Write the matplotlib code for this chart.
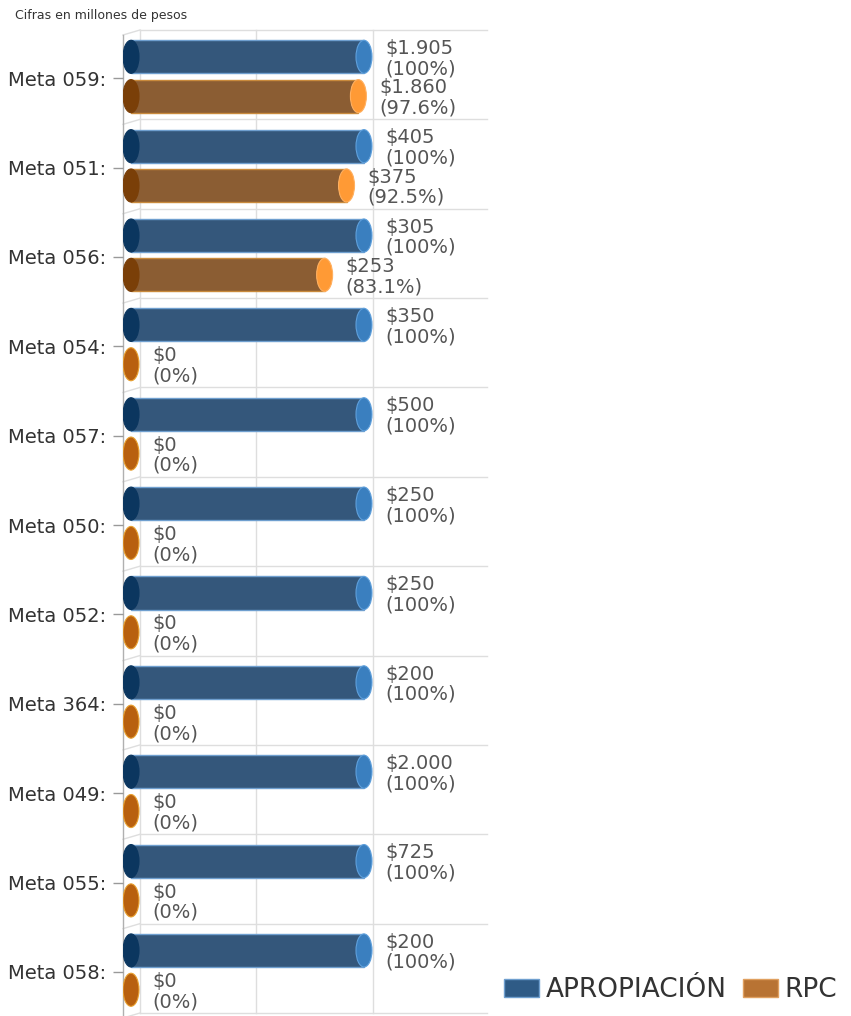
import matplotlib
matplotlib.use('Agg')
import matplotlib.pyplot as plt
from matplotlib.patches import Rectangle, Ellipse, Patch

# -----------------------------------------------------------------------------
# data (millones de pesos)

categories = ['Meta 059:', 'Meta 051:', 'Meta 056:', 'Meta 054:', 'Meta 057:',
              'Meta 050:', 'Meta 052:', 'Meta 364:', 'Meta 049:', 'Meta 055:',
              'Meta 058:']
apropiacion = [1905, 405, 305, 350, 500, 250, 250, 200, 2000, 725, 200]
apropiacion_pct = [100, 100, 100, 100, 100, 100, 100, 100, 100, 100, 100]
rpc = [1860, 375, 253, 0, 0, 0, 0, 0, 0, 0, 0]
rpc_pct = [97.6, 92.5, 83.1, 0, 0, 0, 0, 0, 0, 0, 0]

# -----------------------------------------------------------------------------

W, H, DPI = 851, 1016, 100
fig = plt.figure(figsize=(W / DPI, H / DPI), dpi=DPI)

ax_left, ax_right, ax_top, ax_bottom = 123, 487, 30, 1013
ax = fig.add_axes([ax_left / W, 1 - ax_bottom / H,
                   (ax_right - ax_left) / W, (ax_bottom - ax_top) / H])

px_per_pct = 2.33
x0 = -(131 - ax_left) / px_per_pct
x1 = (ax_right - 131) / px_per_pct
ax.set_xlim(x0, x1)
n = len(categories)
ax.set_ylim(n, 0)

for s in ax.spines.values():
    s.set_visible(False)
ax.set_xticks([])

# 3D-ish back wall / floor
depth_x = 17 / px_per_pct
depth_y = 5 / 89.4
grid_c = '#dedede'
for k in range(n + 1):
    ax.plot([x0 + depth_x, x1], [k, k], color=grid_c, lw=1, clip_on=False,
            zorder=0)
    ax.plot([x0, x0 + depth_x], [k + depth_y, k], color=grid_c, lw=1,
            clip_on=False, zorder=0)
for g in [0, 50, 100]:
    ax.plot([g + 3.7, g + 3.7], [0, n], color=grid_c, lw=1, zorder=0,
            clip_on=False)
ax.plot([x0, x0], [0.06, n + 0.04], color='#b0b0b0', lw=1, clip_on=False,
        zorder=1)

bar_h = 0.37
ell_w = 16 / px_per_pct

styles = {
    'blue': dict(body='#34577b', edge='#6f9fcf', left='#0b365f',
                 right='#3a7fbf', rightedge='#5fa0dc'),
    'orange': dict(body='#8b5d33', edge='#c98a3c', left='#7a3f08',
                   right='#ff9a35', rightedge='#ffb060'),
}


def cylinder(v, yc, st):
    if v > 0:
        ax.add_patch(Rectangle((0, yc - bar_h / 2), v, bar_h,
                               facecolor=st['body'], edgecolor=st['edge'],
                               lw=1, zorder=3))
        ax.add_patch(Ellipse((0, yc), ell_w, bar_h, facecolor=st['left'],
                             edgecolor=st['left'], lw=0.8, zorder=4))
        ax.add_patch(Ellipse((v, yc), ell_w, bar_h, facecolor=st['right'],
                             edgecolor=st['rightedge'], lw=0.8, zorder=4))
    else:
        ax.add_patch(Ellipse((0, yc), ell_w, bar_h, facecolor='#b8600f',
                             edgecolor='#e8a030', lw=0.8, zorder=4))


def fmt_pct(p):
    if float(p).is_integer():
        return '(%d%%)' % p
    return '(%.1f%%)' % p


def fmt_money(v):
    return '$' + '{:,}'.format(v).replace(',', '.')


blue_off, orange_off = 0.30, 0.74
for i in range(n):
    yb = i + blue_off
    yo = i + orange_off
    cylinder(apropiacion_pct[i], yb, styles['blue'])
    cylinder(rpc_pct[i], yo, styles['orange'])
    ax.text(apropiacion_pct[i] + 9, yb + 0.02,
            fmt_money(apropiacion[i]) + '\n' + fmt_pct(apropiacion_pct[i]),
            fontsize=14, color='#555555', va='center', ha='left',
            linespacing=1.08, zorder=5)
    ax.text(rpc_pct[i] + 9, yo + 0.02,
            fmt_money(rpc[i]) + '\n' + fmt_pct(rpc_pct[i]),
            fontsize=14, color='#555555', va='center', ha='left',
            linespacing=1.08, zorder=5)

ax.set_yticks([i + 0.54 for i in range(n)])
ax.set_yticklabels(categories)
ax.tick_params(axis='y', length=7, width=1, color='#999999', labelsize=14,
               labelcolor='#333333', pad=5)

fig.text(15 / W, 1 - 15 / H, 'Cifras en millones de pesos', fontsize=9,
         color='#333333', va='center', ha='left')

handles = [Patch(facecolor='#2f5b86', edgecolor='#6f9fcf',
                 label='APROPIACIÓN'),
           Patch(facecolor='#b87333', edgecolor='#e0a060', label='RPC')]
fig.legend(handles=handles, loc='center right',
           bbox_to_anchor=(848 / W, 1 - 990 / H), ncol=2, frameon=False,
           fontsize=19, handlelength=1.35, handleheight=0.7,
           handletextpad=0.25, columnspacing=0.6, borderaxespad=0,
           labelcolor='#333333')

plt.savefig('out.png', dpi=DPI)
